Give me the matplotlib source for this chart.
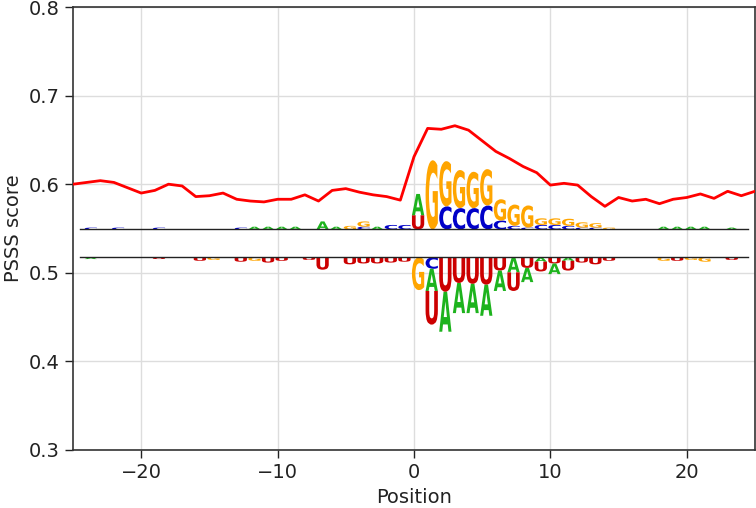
import numpy as np
import matplotlib
matplotlib.use("Agg")
import matplotlib.pyplot as plt
from matplotlib.textpath import TextPath
from matplotlib.patches import PathPatch
from matplotlib.font_manager import FontProperties
from matplotlib.transforms import Affine2D

# PSSS score along positions -25..25
positions = list(range(-25, 26))
psss = [0.600, 0.602, 0.604, 0.602, 0.596, 0.590, 0.593, 0.600, 0.598, 0.586,
        0.587, 0.590, 0.583, 0.581, 0.580, 0.583, 0.583, 0.588, 0.581, 0.593,
        0.595, 0.591, 0.588, 0.586, 0.582,
        0.631, 0.663, 0.662, 0.666, 0.661, 0.649, 0.637, 0.629, 0.620, 0.613,
        0.599, 0.601, 0.599, 0.586, 0.575, 0.585, 0.581, 0.583, 0.578, 0.583,
        0.585, 0.589, 0.584, 0.592, 0.587, 0.592]

# enriched logo (stacked upward, bottom -> top)
up_cols = [-24, -22, -19, -13, -12, -11, -10, -9, -7, -6, -5, -4, -3, -2, -1,
           0, 1, 2, 3, 4, 5, 6, 7, 8, 9, 10, 11, 12, 13, 14, 18, 19, 20, 21, 23]
up_letters = ["C", "C", "C", "C", "A", "A", "A", "A", "A", "A", "G", "CG", "A", "C", "C",
              "UA", "G", "CG", "CG", "CG", "CG", "CG", "CG", "CG", "CG", "CG", "CG", "CG", "CG", "G",
              "A", "A", "A", "A", "A"]
up_heights = [[0.002], [0.002], [0.002], [0.002], [0.003], [0.003], [0.003], [0.003], [0.009],
              [0.003], [0.004], [0.003, 0.006], [0.003], [0.005], [0.005],
              [0.016, 0.024], [0.078], [0.026, 0.051], [0.024, 0.043], [0.024, 0.041],
              [0.027, 0.041], [0.010, 0.024], [0.004, 0.024], [0.002, 0.025],
              [0.005, 0.0075], [0.005, 0.0075], [0.004, 0.008], [0.002, 0.006],
              [0.002, 0.005], [0.002],
              [0.003], [0.003], [0.003], [0.003], [0.002]]

# depleted logo (hanging downward, baseline -> bottom)
down_cols = [-24, -19, -16, -15, -13, -12, -11, -10, -8, -7, -5, -4, -3, -2, -1,
             0, 1, 2, 3, 4, 5, 6, 7, 8, 9, 10, 11, 12, 13, 14, 18, 19, 20, 21, 23]
down_letters = ["A", "U", "U", "G", "U", "G", "U", "U", "U", "U", "U", "U", "U", "U", "U",
                "G", "CAU", "UA", "UA", "UA", "UA", "UA", "AU", "UA", "AU", "UA", "AU", "U", "U", "U",
                "G", "U", "G", "G", "U"]
down_heights = [[0.002], [0.002], [0.004], [0.003], [0.005], [0.004], [0.006], [0.004], [0.003],
                [0.014], [0.008], [0.007], [0.007], [0.006], [0.005],
                [0.037], [0.013, 0.025, 0.038], [0.039, 0.045], [0.029, 0.034], [0.030, 0.033],
                [0.031, 0.035], [0.015, 0.023], [0.017, 0.021], [0.012, 0.016],
                [0.005, 0.011], [0.007, 0.012], [0.004, 0.011], [0.006], [0.008], [0.004],
                [0.004], [0.004], [0.003], [0.005], [0.003]]

UP_BASE = 0.549
DOWN_BASE = 0.5175
LOGO_SHIFT = 0.3
LETTER_W = 0.9

COLORS = {"A": "#1db31d", "C": "#0000c8", "G": "#ffa500", "U": "#cc0000"}
FP = FontProperties(family="DejaVu Sans", weight="bold")


def draw_letter(ax, ch, xc, y0, w, h):
    tp = TextPath((0, 0), ch, size=1, prop=FP)
    bb = tp.get_extents()
    t = (Affine2D().translate(-bb.x0, -bb.y0)
         .scale(w / bb.width, h / bb.height)
         .translate(xc - w / 2, y0))
    ax.add_patch(PathPatch(t.transform_path(tp), fc=COLORS[ch], ec="none",
                           lw=0, zorder=3))


fig = plt.figure(figsize=(7.56, 5.08), dpi=100)
ax = fig.add_axes([0.0966, 0.1142, 0.902, 0.872])

ax.grid(True, color="#dddddd", lw=1.0, zorder=0)
ax.set_axisbelow(True)

# enriched letters
for col, letters, hs in zip(up_cols, up_letters, up_heights):
    y = UP_BASE
    for ch, h in zip(letters, hs):
        draw_letter(ax, ch, col + LOGO_SHIFT, y, LETTER_W, h)
        y += h

# depleted letters
for col, letters, hs in zip(down_cols, down_letters, down_heights):
    y = DOWN_BASE
    for ch, h in zip(letters, hs):
        y -= h
        draw_letter(ax, ch, col + LOGO_SHIFT, y, LETTER_W, h)

ax.plot([-24.5, 24.5], [UP_BASE, UP_BASE], color="#222222", lw=1.0, zorder=4)
ax.plot([-24.5, 24.5], [DOWN_BASE, DOWN_BASE], color="#222222", lw=1.0, zorder=4)

ax.plot(positions, psss, color="red", lw=2.0, zorder=5)

ax.set_xlim(-25, 25)
ax.set_ylim(0.3, 0.8)
ax.set_xticks([-20, -10, 0, 10, 20])
ax.set_yticks([0.3, 0.4, 0.5, 0.6, 0.7, 0.8])
ax.set_xlabel("Position", fontsize=14, color="#222222")
ax.set_ylabel("PSSS score", fontsize=14, color="#222222")
ax.tick_params(labelsize=14, length=6, width=1.0, colors="#222222")
for s in ax.spines.values():
    s.set_color("#333333")
    s.set_linewidth(1.2)

fig.savefig("out.png", dpi=100)
